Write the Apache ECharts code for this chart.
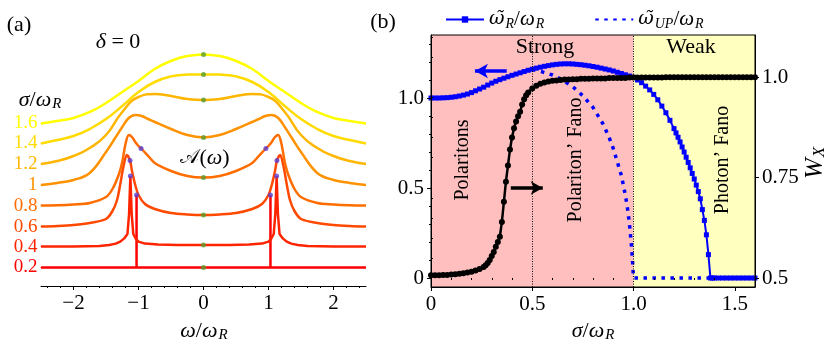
<!DOCTYPE html>
<html>
<head>
<meta charset="utf-8">
<script src="https://cdn.jsdelivr.net/npm/echarts@6.0.0/dist/echarts.min.js"></script>
<style>
  html, body { margin: 0; padding: 0; background: #fff; }
  #chart { width: 830px; height: 346px; }
</style>
</head>
<body>
<div id="chart"></div>
<script>
// ---- (a) spectral function, one curve per sigma, shifted up ----
const sigmaLabels = ['0.2', '0.4', '0.6', '0.8', '1', '1.2', '1.4', '1.6'];
const curveColors = ['#ff0000', '#ff2400', '#ff4900', '#ff6d00', '#ff9200', '#ffb600', '#ffdb00', '#ffff00'];

const omega02 = [-2.5, -1.03, -1.03, -1.03, 1.03, 1.03, 1.03, 2.5];
const A02 = [0.93, 0.93, 4.55, 0.93, 0.93, 4.55, 0.93, 0.93];

const omega04 = [-2.5, -2, -1.6, -1.45, -1.35, -1.28, -1.22, -1.17, -1.145, -1.125, -1.105, -1.08, -1.04, -1, -0.9, -0.7, -0.4, 0,
                 0.4, 0.7, 0.9, 1, 1.04, 1.08, 1.105, 1.125, 1.145, 1.17, 1.22, 1.28, 1.35, 1.45, 1.6, 2, 2.5];
const A04 = [1.97, 1.98, 2.0, 2.05, 2.12, 2.22, 2.38, 2.6, 3.6, 5.5, 3.6, 2.6, 2.35, 2.22, 2.12, 2.07, 2.05, 2.05,
             2.05, 2.07, 2.12, 2.22, 2.35, 2.6, 3.6, 5.5, 3.6, 2.6, 2.38, 2.22, 2.12, 2.05, 2.0, 1.98, 1.97];

const omega06 = [-2.5, -2.25, -2, -1.75, -1.5, -1.4, -1.33, -1.28, -1.23, -1.18, -1.13, -1.1, -1.05, -1, -0.9, -0.75, -0.5, -0.25, 0,
                 0.25, 0.5, 0.75, 0.9, 1, 1.05, 1.1, 1.13, 1.18, 1.23, 1.28, 1.33, 1.4, 1.5, 1.75, 2, 2.25, 2.5];
const A06 = [2.97, 3.0, 3.05, 3.15, 3.35, 3.75, 4.3, 5.1, 6.0, 6.55, 6.27, 5.75, 5.05, 4.55, 4.1, 3.85, 3.65, 3.58, 3.55,
             3.58, 3.65, 3.85, 4.1, 4.55, 5.05, 5.75, 6.27, 6.55, 6.0, 5.1, 4.3, 3.75, 3.35, 3.15, 3.05, 3.0, 2.97];

const omega08 = [-2.5, -2.25, -2, -1.75, -1.5, -1.4, -1.3, -1.25, -1.2, -1.15, -1.1, -1.05, -1, -0.95, -0.85, -0.75, -0.5, -0.25, 0,
                 0.25, 0.5, 0.75, 0.85, 0.95, 1, 1.05, 1.1, 1.15, 1.2, 1.25, 1.3, 1.4, 1.5, 1.75, 2, 2.25, 2.5];
const A08 = [4.02, 4.04, 4.08, 4.15, 4.45, 4.85, 5.6, 6.2, 7.1, 7.55, 7.45, 7.2, 7.0, 6.85, 6.5, 6.15, 5.75, 5.5, 5.42,
             5.5, 5.75, 6.15, 6.5, 6.85, 7.0, 7.2, 7.45, 7.55, 7.1, 6.2, 5.6, 4.85, 4.45, 4.15, 4.08, 4.04, 4.02];

const omega10 = [-2.5, -2.25, -2, -1.75, -1.5, -1.35, -1.25, -1.15, -1.05, -0.95, -0.85, -0.75, -0.5, -0.25, 0,
                 0.25, 0.5, 0.75, 0.85, 0.95, 1.05, 1.15, 1.25, 1.35, 1.5, 1.75, 2, 2.25, 2.5];
const A10 = [5.05, 5.15, 5.3, 5.65, 6.7, 7.45, 7.95, 8.4, 8.55, 8.5, 8.35, 8.2, 7.85, 7.55, 7.43,
             7.55, 7.85, 8.2, 8.35, 8.5, 8.55, 8.4, 7.95, 7.45, 6.7, 5.65, 5.3, 5.15, 5.05];

const omegaWide = [-2.5, -2.25, -2, -1.75, -1.5, -1.25, -1, -0.75, -0.5, -0.25, 0, 0.25, 0.5, 0.75, 1, 1.25, 1.5, 1.75, 2, 2.25, 2.5];
const A12 = [6.1, 6.25, 6.5, 6.9, 7.55, 8.7, 9.45, 9.6, 9.5, 9.35, 9.3, 9.35, 9.5, 9.6, 9.45, 8.7, 7.55, 6.9, 6.5, 6.25, 6.1];
const A14 = [7.13, 7.3, 7.5, 7.85, 8.35, 9.0, 9.7, 10.2, 10.48, 10.57, 10.58, 10.57, 10.48, 10.2, 9.7, 9.0, 8.35, 7.85, 7.5, 7.3, 7.13];
const A16 = [8.13, 8.25, 8.4, 8.7, 9.15, 9.7, 10.25, 10.85, 11.25, 11.5, 11.58, 11.5, 11.25, 10.85, 10.25, 9.7, 9.15, 8.7, 8.4, 8.25, 8.13];

// marked points: peaks (blue) and omega = 0 (green)
const peakOmega = [-1.03, 1.03, -1.125, 1.125, -1.13, 1.13, -0.96, 0.96];
const peakA = [4.55, 4.55, 5.5, 5.5, 6.27, 6.27, 6.88, 6.88];
const centerA = [0.93, 2.05, 3.55, 5.42, 7.43, 9.3, 10.58, 11.58];

const omegaTicks = [-2, -1, 0, 1, 2];
const omegaMinor = [-2.4, -2.2, -1.8, -1.6, -1.4, -1.2, -0.8, -0.6, -0.4, -0.2, 0.2, 0.4, 0.6, 0.8, 1.2, 1.4, 1.6, 1.8, 2.2, 2.4];

// ---- (b) renormalised frequencies and W_X vs sigma ----
const sigmaR = [0, 0.02, 0.04, 0.06, 0.08, 0.1, 0.12, 0.14, 0.16, 0.18,
  0.2, 0.22, 0.24, 0.26, 0.28, 0.3, 0.32, 0.34, 0.36, 0.38,
  0.4, 0.42, 0.44, 0.46, 0.48, 0.5, 0.52, 0.54, 0.56, 0.58,
  0.6, 0.62, 0.64, 0.66, 0.68, 0.7, 0.72, 0.74, 0.76, 0.78,
  0.8, 0.82, 0.84, 0.86, 0.88, 0.9, 0.92, 0.94, 0.96, 0.98,
  1.0, 1.02, 1.04, 1.06, 1.08, 1.1, 1.12, 1.14, 1.16, 1.18,
  1.2, 1.21, 1.22, 1.23, 1.24, 1.25, 1.26, 1.27, 1.28, 1.29,
  1.3, 1.31, 1.32, 1.33, 1.34, 1.35, 1.36, 1.37, 1.38, 1.39,
  1.4, 1.42, 1.44, 1.46, 1.48, 1.5, 1.52, 1.54, 1.56, 1.58, 1.6];
const wR = [1.0, 1.0, 1.0, 1.001, 1.002, 1.004, 1.007, 1.011, 1.016, 1.022,
  1.03, 1.04, 1.05, 1.06, 1.072, 1.083, 1.093, 1.102, 1.11, 1.118,
  1.126, 1.133, 1.14, 1.147, 1.154, 1.16, 1.166, 1.171, 1.176, 1.18,
  1.184, 1.187, 1.189, 1.19, 1.19, 1.189, 1.187, 1.185, 1.182, 1.179,
  1.175, 1.171, 1.166, 1.161, 1.156, 1.15, 1.143, 1.136, 1.129, 1.122,
  1.115, 1.1, 1.085, 1.066, 1.045, 1.02, 0.99, 0.955, 0.918, 0.876,
  0.83, 0.806, 0.782, 0.756, 0.728, 0.7, 0.671, 0.642, 0.612, 0.581,
  0.55, 0.516, 0.48, 0.44, 0.38, 0.32, 0.24, 0.13, 0, 0,
  0, 0, 0, 0, 0, 0, 0, 0, 0, 0, 0];

const sigmaUP = [0.5, 0.55, 0.6, 0.65, 0.7, 0.75, 0.8, 0.85, 0.88, 0.9, 0.92, 0.94, 0.96, 0.97, 0.98, 0.99, 0.995, 1.0, 1.6];
const wUP = [1.16, 1.145, 1.128, 1.1, 1.063, 1.012, 0.948, 0.855, 0.78, 0.72, 0.645, 0.57, 0.46, 0.39, 0.3, 0.18, 0.1, 0, 0];

const sigmaW = [0, 0.02, 0.04, 0.06, 0.08, 0.1, 0.12, 0.14, 0.16, 0.18, 0.2, 0.22, 0.24, 0.26,
  0.27, 0.28, 0.29, 0.3, 0.31, 0.32, 0.33, 0.34, 0.35, 0.36, 0.37, 0.38, 0.39, 0.4, 0.41, 0.42, 0.43, 0.44, 0.45, 0.46, 0.47, 0.48,
  0.5, 0.52, 0.54, 0.56, 0.58, 0.6, 0.62, 0.64, 0.66, 0.68,
  0.7, 0.72, 0.74, 0.76, 0.78, 0.8, 0.82, 0.84, 0.86, 0.88,
  0.9, 0.92, 0.94, 0.96, 0.98, 1.0, 1.02, 1.04, 1.06, 1.08,
  1.1, 1.12, 1.14, 1.16, 1.18, 1.2, 1.22, 1.24, 1.26, 1.28,
  1.3, 1.32, 1.34, 1.36, 1.38, 1.4, 1.42, 1.44, 1.46, 1.48, 1.5, 1.52, 1.54, 1.56, 1.58, 1.6];
const WX = [0.507, 0.507, 0.507, 0.508, 0.508, 0.509, 0.51, 0.511, 0.512, 0.514, 0.516, 0.519, 0.523, 0.528,
  0.532, 0.538, 0.545, 0.555, 0.565, 0.578, 0.59, 0.603, 0.64, 0.69, 0.74, 0.78, 0.82, 0.85, 0.873, 0.89, 0.903, 0.914, 0.932, 0.945, 0.955, 0.962,
  0.972, 0.979, 0.984, 0.987, 0.989, 0.991, 0.992, 0.993, 0.994, 0.994,
  0.995, 0.995, 0.996, 0.996, 0.996, 0.997, 0.997, 0.997, 0.997, 0.998,
  0.998, 0.998, 0.998, 0.998, 0.999, 0.999, 0.999, 0.999, 0.999, 0.999,
  0.999, 0.999, 0.999, 1.0, 1.0, 1.0, 1.0, 1.0, 1.0, 1.0,
  1.0, 1.0, 1.0, 1.0, 1.0, 1.0, 1.0, 1.0, 1.0, 1.0, 1.0, 1.0, 1.0, 1.0, 1.0, 1.0];

const strongRange = [0, 1.0];
const weakRange = [1.0, 1.6];
const dividers = [0.5, 1.0];
const sigmaTicks = [0, 0.5, 1.0, 1.5];
const sigmaMinor = [0.1, 0.2, 0.3, 0.4, 0.6, 0.7, 0.8, 0.9, 1.1, 1.2, 1.3, 1.4, 1.6];
const freqTicks = [0, 0.5, 1.0];
const freqMinor = [0.1, 0.2, 0.3, 0.4, 0.6, 0.7, 0.8, 0.9, 1.1, 1.2, 1.3];
const wxTicks = [0.5, 0.75, 1.0];
const wxMinor = [0.55, 0.6, 0.65, 0.7, 0.8, 0.85, 0.9, 0.95, 1.05, 1.1];

const F = "'Liberation Serif', serif";
const rich = {
  m: { fontFamily: F, fontStyle: 'italic', fontSize: 22, color: '#000' },
  r: { fontFamily: F, fontSize: 22, color: '#000' },
  s: { fontFamily: F, fontStyle: 'italic', fontSize: 15, color: '#000', padding: [9, 0, 0, 1] },
  c: { fontFamily: 'DejaVu Serif', fontSize: 20, color: '#000' },
  t: { fontFamily: F, fontSize: 20, color: '#000' },
  k: { fontFamily: F, fontSize: 21, color: '#000' },
  wt: { fontFamily: 'DejaVu Serif', fontStyle: 'italic', fontSize: 19, color: '#000' },
  lm: { fontFamily: F, fontStyle: 'italic', fontSize: 21, color: '#000' },
  ln: { fontFamily: F, fontSize: 21, color: '#000' },
  ls: { fontFamily: F, fontStyle: 'italic', fontSize: 14, color: '#000', padding: [9, 0, 0, 1] },
  W: { fontFamily: F, fontStyle: 'italic', fontSize: 25, color: '#000' },
  X: { fontFamily: F, fontStyle: 'italic', fontSize: 17, color: '#000', padding: [10, 0, 0, 1] }
};

function txt(x, y, text, rot) {
  return {
    type: 'text', x: x, y: y, rotation: rot || 0, z: 20,
    style: { text: text, rich: rich, align: 'center', verticalAlign: 'middle', fill: '#000' }
  };
}

function tickText(fmt) {
  return {
    margin: 7, rich: rich,
    formatter: function (v) { return '{k|' + fmt(v) + '}'; }
  };
}
const blackLine = { show: true, onZero: false, lineStyle: { color: '#000', width: 1 } };

function minusFmt(v) {
  return v < 0 ? '\u2212' + Math.abs(v) : String(v);
}
function oneDecimal(v) {
  return v === 0 ? '0' : v.toFixed(1);
}

const chart = echarts.init(document.getElementById('chart'));

const leftCurves = [
  [omega02, A02, false], [omega04, A04, false], [omega06, A06, 0.3], [omega08, A08, 0.3],
  [omega10, A10, 0.4], [omegaWide, A12, 0.5], [omegaWide, A14, 0.5], [omegaWide, A16, 0.5]
];

const series = leftCurves.map(function (c, i) {
  return {
    type: 'line', xAxisIndex: 0, yAxisIndex: 0, smooth: c[2], symbol: 'none', showSymbol: true,
    lineStyle: { color: curveColors[i], width: 2.5 },
    itemStyle: { color: curveColors[i] },
    data: c[0].map(function (w, k) {
      if (k === 0) {
        return {
          value: [w, c[1][k]], symbol: 'circle', symbolSize: 1,
          label: {
            show: true, position: 'left', distance: 3, formatter: '{v|' + sigmaLabels[i] + '}',
            rich: { v: { color: curveColors[i], fontFamily: F, fontSize: 19 } }
          }
        };
      }
      return [w, c[1][k]];
    }),
    z: 2
  };
});

series.push({
  type: 'scatter', xAxisIndex: 0, yAxisIndex: 0, symbolSize: 5,
  itemStyle: { color: '#5a9b2c' },
  data: centerA.map(function (a) { return [0, a]; }), z: 5
});
series.push({
  type: 'scatter', xAxisIndex: 0, yAxisIndex: 0, symbolSize: 5,
  itemStyle: { color: '#5b3fd6' },
  data: peakOmega.map(function (w, k) { return [w, peakA[k]]; }), z: 5
});

// (b) background regions and dotted dividers
series.push({
  type: 'line', xAxisIndex: 2, yAxisIndex: 1, data: [], z: 1, silent: true,
  markArea: {
    silent: true,
    data: [
      [{ xAxis: strongRange[0], itemStyle: { color: '#ffbfbf' } }, { xAxis: strongRange[1] }],
      [{ xAxis: weakRange[0], itemStyle: { color: '#ffffbf' } }, { xAxis: weakRange[1] }]
    ]
  },
  markLine: {
    silent: true, symbol: 'none', label: { show: false },
    lineStyle: { color: '#000', width: 1, type: [1, 1.5] },
    data: dividers.map(function (d) { return { xAxis: d }; })
  }
});

series.push({
  name: 'wR', type: 'line', xAxisIndex: 2, yAxisIndex: 1,
  symbol: 'rect', symbolSize: 5,
  lineStyle: { color: '#0000ff', width: 2 }, itemStyle: { color: '#0000ff' },
  data: sigmaR.map(function (s, k) { return [s, wR[k]]; }), z: 3
});
series.push({
  name: 'wUP', type: 'line', xAxisIndex: 2, yAxisIndex: 1, symbol: 'none',
  lineStyle: { color: '#0000ff', width: 3.5, type: [3.5, 5.5] }, itemStyle: { color: '#0000ff' },
  data: sigmaUP.map(function (s, k) { return [s, wUP[k]]; }), z: 3
});
series.push({
  name: 'wx', type: 'line', xAxisIndex: 2, yAxisIndex: 2,
  symbol: 'circle', symbolSize: 6,
  lineStyle: { color: '#000', width: 2.5 }, itemStyle: { color: '#000' },
  data: sigmaW.map(function (s, k) { return [s, WX[k]]; }), z: 4
});

// arrows telling which axis each curve belongs to
series.push({
  type: 'line', xAxisIndex: 2, yAxisIndex: 1, data: [], z: 6, silent: true,
  markLine: {
    silent: true, symbol: ['none', 'arrow'], symbolSize: [11, 13], label: { show: false },
    lineStyle: { color: '#0000ff', width: 3.5, type: 'solid' },
    data: [[{ coord: [0.374, 1.15] }, { coord: [0.217, 1.15] }]]
  }
});
series.push({
  type: 'line', xAxisIndex: 2, yAxisIndex: 1, data: [], z: 6, silent: true,
  markLine: {
    silent: true, symbol: ['none', 'arrow'], symbolSize: [10, 12], label: { show: false },
    lineStyle: { color: '#000', width: 3.5, type: 'solid' },
    data: [[{ coord: [0.394, 0.5] }, { coord: [0.552, 0.5] }]]
  }
});

chart.setOption({
  animation: false,
  backgroundColor: '#fff',
  grid: [
    { left: 41, right: 464, top: 26, bottom: 60 },
    { left: 431, right: 75, top: 35, bottom: 59, show: true, borderColor: '#000', borderWidth: 1, backgroundColor: 'transparent', z: 10 }
  ],
  legend: {
    data: ['wR', { name: 'wUP', itemStyle: { opacity: 0 } }],
    left: 440, top: 4, itemWidth: 38, itemHeight: 8, itemGap: 50,
    formatter: function (name) {
      return name === 'wR'
        ? '{wt|ω̃}{ls|R}{ln|/}{lm|ω}{ls|R}'
        : '{wt|ω̃}{ls|UP}{ln|/}{lm|ω}{ls|R}';
    },
    textStyle: { rich: rich }
  },
  xAxis: [
    {
      gridIndex: 0, type: 'value', position: 'bottom', min: -2.5, max: 2.5, z: 10,
      axisLine: blackLine, splitLine: { show: false },
      axisTick: { show: true, customValues: omegaTicks, length: 4, lineStyle: { color: '#000' } },
      axisLabel: Object.assign({ customValues: omegaTicks }, tickText(minusFmt))
    },
    {
      gridIndex: 0, type: 'value', position: 'bottom', min: -2.5, max: 2.5, z: 10,
      axisLine: { show: false }, splitLine: { show: false }, axisLabel: { show: false },
      axisTick: { show: true, customValues: omegaMinor, length: 2, lineStyle: { color: '#000' } }
    },
    {
      gridIndex: 1, type: 'value', position: 'bottom', min: 0, max: 1.6, z: 10,
      axisLine: blackLine, splitLine: { show: false },
      axisTick: { show: true, customValues: sigmaTicks, length: 4, lineStyle: { color: '#000' } },
      axisLabel: Object.assign({ customValues: sigmaTicks }, tickText(oneDecimal))
    },
    {
      gridIndex: 1, type: 'value', position: 'bottom', min: 0, max: 1.6, z: 10,
      axisLine: { show: false }, splitLine: { show: false }, axisLabel: { show: false },
      axisTick: { show: true, customValues: sigmaMinor, length: 2, lineStyle: { color: '#000' } }
    }
  ],
  yAxis: [
    { gridIndex: 0, type: 'value', min: 0, max: 13, show: false },
    {
      gridIndex: 1, type: 'value', position: 'left', min: -0.05, max: 1.35, z: 10,
      axisLine: blackLine, splitLine: { show: false },
      axisTick: { show: true, customValues: freqTicks, length: 4, lineStyle: { color: '#000' } },
      axisLabel: Object.assign({ customValues: freqTicks }, tickText(oneDecimal))
    },
    {
      gridIndex: 1, type: 'value', position: 'right', min: 0.478, max: 1.105, z: 10,
      axisLine: blackLine, splitLine: { show: false },
      axisTick: { show: true, customValues: wxTicks, length: 4, lineStyle: { color: '#000' } },
      axisLabel: Object.assign({ customValues: wxTicks }, tickText(function (v) { return v === 0.75 ? '0.75' : v.toFixed(1); }))
    },
    {
      gridIndex: 1, type: 'value', position: 'left', min: -0.05, max: 1.35, z: 10,
      axisLine: { show: false }, splitLine: { show: false }, axisLabel: { show: false },
      axisTick: { show: true, customValues: freqMinor, length: 2, lineStyle: { color: '#000' } }
    },
    {
      gridIndex: 1, type: 'value', position: 'right', min: 0.478, max: 1.105, z: 10,
      axisLine: { show: false }, splitLine: { show: false }, axisLabel: { show: false },
      axisTick: { show: true, customValues: wxMinor, length: 2, lineStyle: { color: '#000' } }
    }
  ],
  graphic: [
    txt(19, 25, '{r|(a)}'),
    txt(118, 42, '{m|δ}{r| = 0}'),
    txt(40, 100, '{m|σ}{r|/}{m|ω}{s|R}'),
    txt(205, 158, '{c|𝒜}{r|(}{m|ω}{r|)}'),
    txt(204, 331, '{m|ω}{r|/}{m|ω}{s|R}'),
    txt(383, 22, '{r|(b)}'),
    txt(593, 331, '{m|σ}{r|/}{m|ω}{s|R}'),
    txt(545, 47, '{r|Strong}'),
    txt(691, 47, '{r|Weak}'),
    txt(463, 160, '{t|Polaritons}', Math.PI / 2),
    txt(576, 160, '{t|Polariton’ Fano}', Math.PI / 2),
    txt(723, 160, '{t|Photon’ Fano}', Math.PI / 2),
    txt(815, 163, '{W|W}{X|X}', Math.PI / 2)
  ],
  series: series
});
</script>
</body>
</html>
